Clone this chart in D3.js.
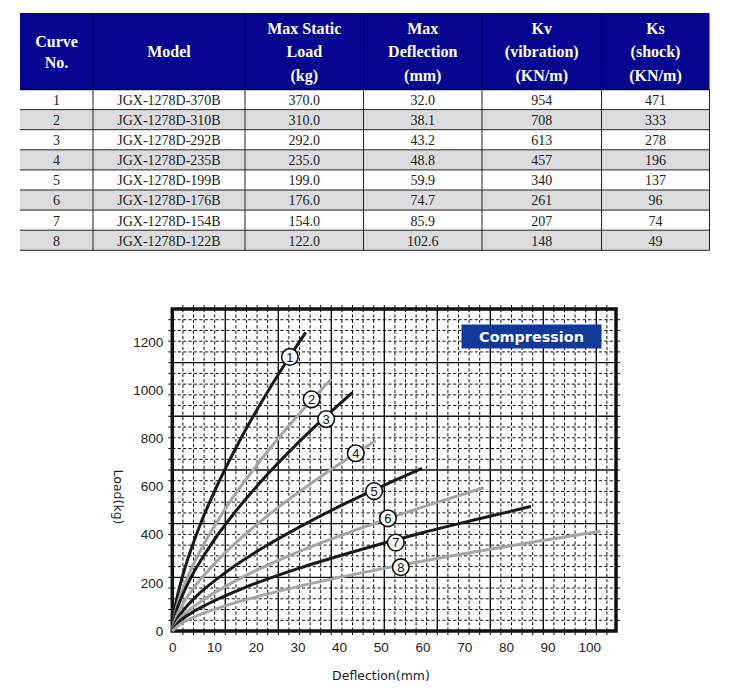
<!DOCTYPE html>
<html>
<head>
<meta charset="utf-8">
<script src="https://cdn.jsdelivr.net/npm/d3@7"></script>
<style>
  html, body { margin: 0; padding: 0; background: #fff; }
  svg { display: block; }
</style>
</head>
<body>
<svg id="chart" width="741" height="692"></svg>
<script>
// ---------- Table data ----------
const curveNos = [1, 2, 3, 4, 5, 6, 7, 8];
const models = ["JGX-1278D-370B", "JGX-1278D-310B", "JGX-1278D-292B", "JGX-1278D-235B",
                "JGX-1278D-199B", "JGX-1278D-176B", "JGX-1278D-154B", "JGX-1278D-122B"];
const maxLoad = [370.0, 310.0, 292.0, 235.0, 199.0, 176.0, 154.0, 122.0];
const maxDefl = [32.0, 38.1, 43.2, 48.8, 59.9, 74.7, 85.9, 102.6];
const kvVib = [954, 708, 613, 457, 340, 261, 207, 148];
const ksShock = [471, 333, 278, 196, 137, 96, 74, 49];
const headers = [["Curve", "No."], ["Model"], ["Max Static", "Load", "(kg)"],
                 ["Max", "Deflection", "(mm)"], ["Kv", "(vibration)", "(KN/m)"], ["Ks", "(shock)", "(KN/m)"]];

// ---------- Chart data: [deflection mm, load kg] ----------
const curve1 = [[0,0],[0.64,94],[1.6,172],[3.2,271],[6.4,429],[11.2,620],[16,785],[22.4,980],[27.2,1114],[32,1240]];
const curve2 = [[0,0],[0.76,79],[1.9,145],[3.8,229],[7.6,361],[13.3,523],[19.05,661],[26.7,826],[32.4,939],[38.1,1045]];
const curve3 = [[0,0],[0.86,75],[2.16,137],[4.32,217],[8.64,342],[15.1,495],[21.6,627],[30.2,782],[36.7,889],[43.2,990]];
const curve4 = [[0,0],[0.98,60],[2.44,109],[4.88,173],[9.76,273],[17.1,395],[24.4,500],[34.2,624],[41.5,710],[48.8,790]];
const curve5 = [[0,0],[1.2,51],[3.0,93],[6.0,148],[12.0,233],[21.0,338],[30.0,427],[41.9,533],[50.9,606],[59.9,675]];
const curve6 = [[0,0],[1.5,45],[3.7,82],[7.5,130],[14.9,206],[26.1,298],[37.4,377],[52.3,470],[63.5,534],[74.7,595]];
const curve7 = [[0,0],[1.7,39],[4.3,72],[8.6,113],[17.2,179],[30.1,259],[43,327],[60.2,409],[73.1,464],[86,517]];
const curve8 = [[0,0],[2.1,31],[5.1,57],[10.3,91],[20.5,143],[35.9,207],[51.4,262],[71.9,327],[87.3,372],[102.7,414]];
const curves = [curve1, curve2, curve3, curve4, curve5, curve6, curve7, curve8];
const labelDefl = [28.2, 33.4, 36.9, 44.0, 48.4, 51.7, 53.6, 54.8];
const labelLoad = [1138, 962, 880, 738, 581, 468, 367, 265];
const xTicks = [0, 10, 20, 30, 40, 50, 60, 70, 80, 90, 100];
const yTicks = [0, 200, 400, 600, 800, 1000, 1200];
const legendText = "Compression";
const xTitle = "Deflection(mm)";
const yTitle = "Load(kg)";

const svg = d3.select("#chart");
svg.append("rect").attr("width", 741).attr("height", 692).attr("fill", "#fff");

// ---------- Table ----------
const colEdges = [20, 93, 245, 363.5, 482, 601.5, 709.5];
const headTop = 13, headBottom = 89.5, rowH = 20.1;
const tbl = svg.append("g");
tbl.append("rect").attr("x", colEdges[0]).attr("y", headTop)
  .attr("width", colEdges[6] - colEdges[0]).attr("height", headBottom - headTop)
  .attr("fill", "#05058f");
colEdges.slice(1, 6).forEach(cx => {
  tbl.append("line").attr("x1", cx).attr("x2", cx).attr("y1", headTop).attr("y2", headBottom)
    .attr("stroke", "#00005e").attr("stroke-width", 1);
});
const headLineGap = 23.5;
headers.forEach((lines, i) => {
  const cx = (colEdges[i] + colEdges[i + 1]) / 2;
  const mid = (headTop + headBottom) / 2 + 0.5;
  const gap = lines.length === 2 ? 21 : headLineGap;
  lines.forEach((t, k) => {
    tbl.append("text")
      .attr("x", cx).attr("y", mid + (k - (lines.length - 1) / 2) * gap)
      .attr("dy", "0.35em").attr("text-anchor", "middle")
      .attr("font-family", "'Liberation Serif', 'Times New Roman', serif")
      .attr("font-weight", "bold").attr("font-size", 16).attr("fill", "#fff")
      .text(t);
  });
});
curveNos.forEach((n, i) => {
  const ry = headBottom + i * rowH;
  tbl.append("rect").attr("x", colEdges[0]).attr("y", ry)
    .attr("width", colEdges[6] - colEdges[0]).attr("height", rowH)
    .attr("fill", i % 2 === 1 ? "#dcdcde" : "#ffffff");
  const cells = [String(n), models[i], maxLoad[i].toFixed(1), maxDefl[i].toFixed(1), String(kvVib[i]), String(ksShock[i])];
  cells.forEach((t, c) => {
    tbl.append("text")
      .attr("x", (colEdges[c] + colEdges[c + 1]) / 2).attr("y", ry + rowH / 2 + 0.5)
      .attr("dy", "0.35em").attr("text-anchor", "middle")
      .attr("font-family", "'Liberation Serif', 'Times New Roman', serif")
      .attr("font-size", 14).attr("fill", "#222")
      .text(t);
  });
});
const tableBottom = headBottom + curveNos.length * rowH;
for (let i = 0; i <= curveNos.length; i++) {
  const ly = headBottom + i * rowH;
  tbl.append("line").attr("x1", colEdges[0]).attr("x2", colEdges[6]).attr("y1", ly).attr("y2", ly)
    .attr("stroke", i === 0 ? "#000040" : "#222").attr("stroke-width", i === 0 ? 1.5 : 1);
}
colEdges.slice(1).forEach(cx => {
  tbl.append("line").attr("x1", cx).attr("x2", cx).attr("y1", headBottom).attr("y2", tableBottom)
    .attr("stroke", "#222").attr("stroke-width", 1);
});

// ---------- Chart ----------
const x = d3.scaleLinear().domain([0, 100]).range([172.3, 589.3]);
const y = d3.scaleLinear().domain([0, 1200]).range([631, 342]);
const plotLeft = x(0), plotBottom = y(0), plotRight = 616, plotTop = 309;
const stepX = 53 / 5, stepY = 53.67 / 5;

const grid = svg.append("g");
const vPos = [], hPos = [];
for (let i = 1; plotLeft + i * stepX < plotRight - 1; i++) vPos.push([plotLeft + i * stepX, i % 5 === 0]);
for (let j = 1; plotBottom - j * stepY > plotTop + 1; j++) hPos.push([plotBottom - j * stepY, j % 5 === 0]);
vPos.forEach(([px, major]) => {
  grid.append("line").attr("x1", px).attr("x2", px).attr("y1", plotTop).attr("y2", plotBottom)
    .attr("stroke", "#111").attr("stroke-width", major ? 1.4 : 1)
    .attr("stroke-dasharray", major ? null : "3.2,2.2");
  grid.append("line").attr("x1", px).attr("x2", px).attr("y1", plotTop - 4).attr("y2", plotTop)
    .attr("stroke", "#111").attr("stroke-width", 1);
  grid.append("line").attr("x1", px).attr("x2", px).attr("y1", plotBottom).attr("y2", plotBottom + 4)
    .attr("stroke", "#111").attr("stroke-width", 1);
});
hPos.forEach(([py, major]) => {
  grid.append("line").attr("x1", plotLeft).attr("x2", plotRight).attr("y1", py).attr("y2", py)
    .attr("stroke", "#111").attr("stroke-width", major ? 1.4 : 1)
    .attr("stroke-dasharray", major ? null : "3.2,2.2");
  grid.append("line").attr("x1", plotLeft - 4).attr("x2", plotLeft).attr("y1", py).attr("y2", py)
    .attr("stroke", "#111").attr("stroke-width", 1);
  grid.append("line").attr("x1", plotRight).attr("x2", plotRight + 4).attr("y1", py).attr("y2", py)
    .attr("stroke", "#111").attr("stroke-width", 1);
});
svg.append("rect").attr("x", plotLeft).attr("y", plotTop)
  .attr("width", plotRight - plotLeft).attr("height", plotBottom - plotTop)
  .attr("fill", "none").attr("stroke", "#111").attr("stroke-width", 3.5);

// legend box
svg.append("rect").attr("x", 461.5).attr("y", 324.5).attr("width", 140).attr("height", 24)
  .attr("fill", "#10399a");
svg.append("text").attr("x", 531.5).attr("y", 336.5).attr("dy", "0.35em")
  .attr("text-anchor", "middle")
  .attr("font-family", "'DejaVu Sans', Verdana, sans-serif").attr("font-weight", "bold")
  .attr("font-size", 14.4).attr("fill", "#fff").text(legendText);

// curves
const line = d3.line().x(d => x(d[0])).y(d => y(d[1])).curve(d3.curveMonotoneX);
svg.append("g").selectAll("path").data(curves).join("path")
  .attr("d", line).attr("fill", "none")
  .attr("stroke", (d, i) => i % 2 === 0 ? "#1a1a1a" : "#a6a6a6")
  .attr("stroke-width", 3).attr("stroke-linecap", "butt");

// curve labels
const lab = svg.append("g").selectAll("g").data(curveNos).join("g")
  .attr("transform", (d, i) => `translate(${x(labelDefl[i])},${y(labelLoad[i])})`);
lab.append("circle").attr("r", 8.3).attr("fill", "#fff").attr("stroke", "#111").attr("stroke-width", 1.6);
lab.append("text").attr("text-anchor", "middle").attr("dy", "0.36em")
  .attr("font-family", "'Liberation Sans', Arial, sans-serif").attr("font-size", 13)
  .attr("fill", "#111").text(d => d);

// axes labels
const axisFont = "'Liberation Sans', Arial, sans-serif";
const xAxis = svg.append("g").attr("transform", `translate(0,${plotBottom})`)
  .call(d3.axisBottom(x).tickValues(xTicks).tickFormat(d3.format("d")).tickSize(0).tickPadding(11));
const yAxis = svg.append("g").attr("transform", `translate(${plotLeft},0)`)
  .call(d3.axisLeft(y).tickValues(yTicks).tickFormat(d3.format("d")).tickSize(0).tickPadding(9));
[xAxis, yAxis].forEach(a => {
  a.select(".domain").remove();
  a.selectAll("text").attr("font-family", axisFont).attr("font-size", 13.5).attr("fill", "#222");
});

svg.append("text").attr("x", 381).attr("y", 676).attr("dy", "0.35em").attr("text-anchor", "middle")
  .attr("font-family", "'DejaVu Sans', Verdana, sans-serif").attr("font-size", 12.5)
  .attr("fill", "#222").text(xTitle);
svg.append("text").attr("transform", "translate(118,497) rotate(90)")
  .attr("dy", "0.35em").attr("text-anchor", "middle")
  .attr("font-family", "'DejaVu Sans', Verdana, sans-serif").attr("font-size", 12.5)
  .attr("fill", "#222").text(yTitle);
</script>
</body>
</html>
